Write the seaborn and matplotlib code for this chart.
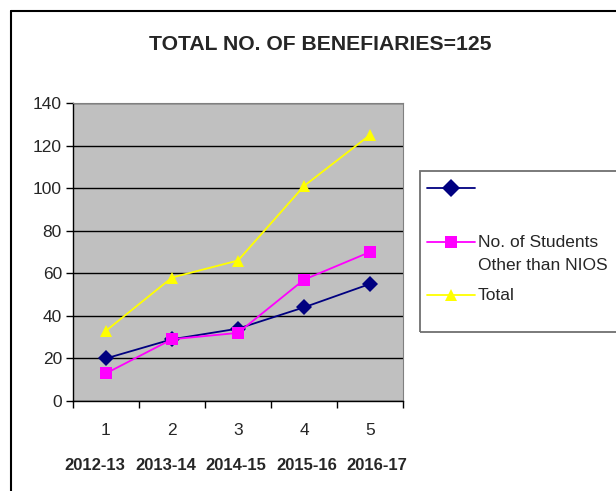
import pandas as pd
import numpy as np
import matplotlib
matplotlib.use('Agg')
import matplotlib.pyplot as plt
import seaborn as sns
from matplotlib.lines import Line2D
from matplotlib.patches import Rectangle

# data
x_pos = [1, 2, 3, 4, 5]
years = ['2012-13', '2013-14', '2014-15', '2015-16', '2016-17']
nios = [20, 29, 34, 44, 55]
other = [13, 29, 32, 57, 70]
total = [33, 58, 66, 101, 125]

series_names = ['NIOS', 'Other', 'Total']
legend_labels = [[], ['No. of Students', 'Other than NIOS'], ['Total']]
colors = {'NIOS': '#000080', 'Other': '#FF00FF', 'Total': '#FFFF00'}
markers = {'NIOS': 'D', 'Other': 's', 'Total': '^'}

df = pd.DataFrame({'x': x_pos * 3,
                   'value': nios + other + total,
                   'series': ['NIOS'] * 5 + ['Other'] * 5 + ['Total'] * 5})

sns.set_style('white')
plt.rcParams['font.family'] = ['Liberation Sans', 'DejaVu Sans']

W, H = 616, 491
fig = plt.figure(figsize=(W / 100, H / 100), dpi=100)
ax = fig.add_axes([73 / W, 1 - 401 / H, 330 / W, 298 / H])
ax.set_facecolor('#C0C0C0')

sns.lineplot(data=df, x='x', y='value', hue='series', style='series',
             palette=colors, markers=markers, dashes=False, markersize=8,
             markeredgewidth=0, linewidth=1.3, ax=ax, legend=False)

ax.set_xlim(0.5, 5.5)
ax.set_ylim(0, 140)
ax.set_yticks(range(0, 141, 20))
ax.yaxis.grid(True, color='black', linewidth=1)
ax.set_axisbelow(True)
ax.set_xlabel('')
ax.set_ylabel('')
ax.tick_params(axis='y', direction='out', length=5, width=1, color='black',
               labelsize=12.5, left=True, pad=3)

# category boundary ticks, labels centred between them
ax.set_xticks(np.arange(0.5, 6, 1))
ax.set_xticklabels([])
ax.tick_params(axis='x', direction='out', length=5, width=1, color='black', bottom=True)
for xp in x_pos:
    ax.text(xp, -0.1, str(xp), transform=ax.get_xaxis_transform(),
            ha='center', va='center', fontsize=12.5)

# year row is a separate text line under the axis, slightly wider than the categories
for i, yr in enumerate(years):
    fig.text((95 + 70.5 * i) / W, 1 - 465 / H, yr, ha='center', va='center',
             fontsize=12, fontweight='bold')

for s in ['top', 'right']:
    ax.spines[s].set_color('#808080')
for s in ['left', 'bottom']:
    ax.spines[s].set_color('black')
    ax.spines[s].set_linewidth(1)

fig.text(0.52, 1 - 45 / H, 'TOTAL NO. OF BENEFIARIES=125', ha='center', va='center',
         fontsize=15.2, fontweight='bold')

# legend box, drawn like the original (runs off the right edge)
fig.patches.append(Rectangle((420 / W, 1 - 332 / H), 0.5, 161 / H, transform=fig.transFigure,
                             fill=False, edgecolor='#707070', linewidth=1.3))
entry_y = [188, 242, 295]
for s, labels, ey in zip(series_names, legend_labels, entry_y):
    yf = 1 - ey / H
    fig.add_artist(Line2D([427 / W, 475 / W], [yf, yf], color=colors[s], linewidth=1.3,
                          transform=fig.transFigure))
    fig.add_artist(Line2D([451 / W], [yf], color=colors[s], marker=markers[s], markersize=9,
                          markeredgewidth=0, transform=fig.transFigure))
    for i, lab in enumerate(labels):
        fig.text(478 / W, 1 - (ey + 23 * i) / H, lab, ha='left', va='center', fontsize=12.5)

# outer frame: top and left edges visible, others cut off
fig.add_artist(Line2D([11 / W, 1.0], [1 - 11 / H, 1 - 11 / H], color='black', linewidth=1.5,
                      transform=fig.transFigure))
fig.add_artist(Line2D([11 / W, 11 / W], [0.0, 1 - 11 / H], color='black', linewidth=1.5,
                      transform=fig.transFigure))

fig.savefig('out.png', dpi=100)
